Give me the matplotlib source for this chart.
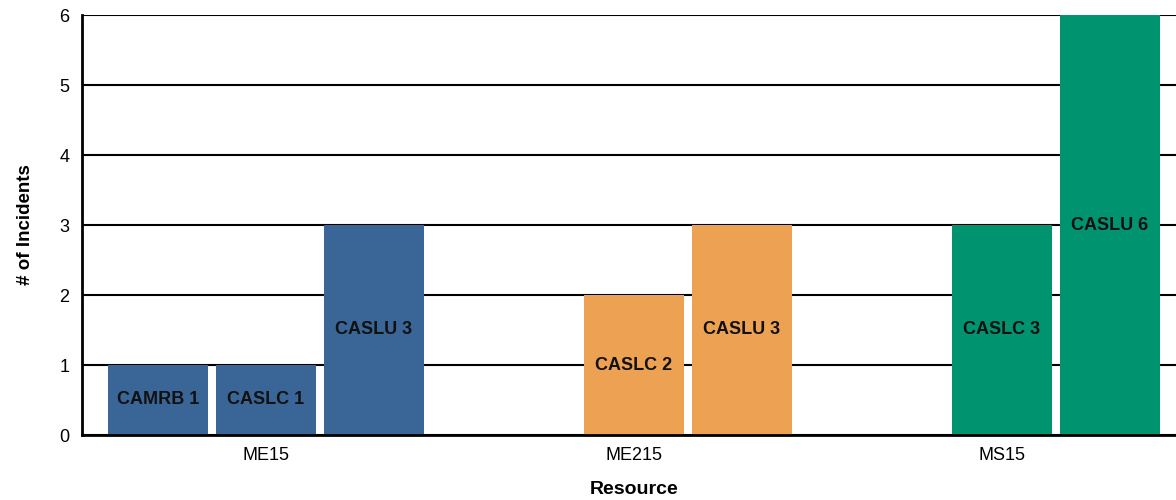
import numpy as np
import matplotlib.pyplot as plt

plt.rcParams['font.family'] = ['Liberation Sans', 'DejaVu Sans']

resources = ['ME15', 'ME215', 'MS15']
series = ['CAMRB', 'CASLC', 'CASLU']
camrb = [1, 0, 0]
caslc = [1, 2, 3]
caslu = [3, 3, 6]
colors = ['#3A6597', '#EDA253', '#009370']

values = [camrb, caslc, caslu]

fig = plt.figure(figsize=(11.76, 5), dpi=100)
# axes run a little past the right edge of the picture, as in the original
ax = fig.add_axes([0.0697, 0.13, 1104 / 1176, 0.84])

x = np.arange(len(resources))
width = 0.272
step = 0.2935

for j, name in enumerate(series):
    for i, res in enumerate(resources):
        v = values[j][i]
        if v == 0:
            continue
        xpos = x[i] + (j - 1) * step
        ax.bar(xpos, v, width=width, color=colors[i], zorder=3)
        ax.text(xpos, v / 2, f'{name} {v}', ha='center', va='center',
                fontsize=13, fontweight='bold', color='#111111', zorder=4)

ax.set_xlim(-0.5, 2.5)
ax.set_ylim(0, 6)
ax.set_xticks(x)
ax.set_xticklabels(resources)
ax.set_yticks(range(0, 7))
ax.yaxis.grid(True, color='black', linewidth=1.5, zorder=0)
ax.tick_params(axis='both', length=0, labelsize=13)
ax.tick_params(axis='x', pad=9)
ax.tick_params(axis='y', pad=9)

for s in ['top', 'right']:
    ax.spines[s].set_visible(False)
ax.spines['left'].set_linewidth(2)
ax.spines['bottom'].set_linewidth(2)
ax.spines['bottom'].set_zorder(5)

ax.set_xlabel('Resource', fontsize=14, fontweight='bold', labelpad=12)
ax.set_ylabel('# of Incidents', fontsize=13.5, fontweight='bold', labelpad=18)

fig.savefig('out.png', dpi=100)
